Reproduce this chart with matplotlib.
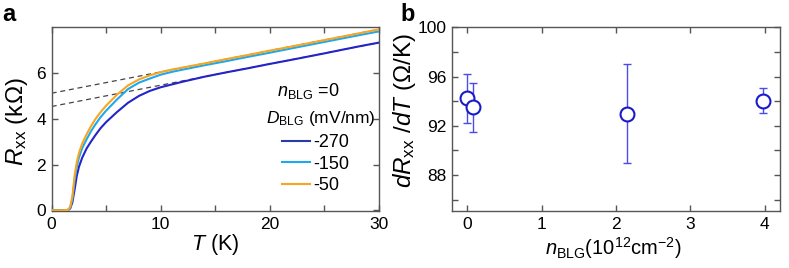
import matplotlib
matplotlib.use("Agg")
import matplotlib.pyplot as plt
from matplotlib.ticker import MultipleLocator, FixedLocator
from matplotlib.lines import Line2D

plt.rcParams['font.family'] = ['Liberation Sans', 'DejaVu Sans']
plt.rcParams['mathtext.fontset'] = 'custom'
plt.rcParams['mathtext.rm'] = 'Liberation Sans'
plt.rcParams['mathtext.it'] = 'Liberation Sans:italic'
plt.rcParams['mathtext.bf'] = 'Liberation Sans:bold'

# ---- panel a data: R_xx (kOhm) vs T (K) ----
T = [0, 1.0, 1.5, 1.7, 1.9, 2.1, 2.3, 2.5, 2.8, 3.2, 3.6, 4.0, 4.5, 5.0, 6.0, 7.0,
     8.0, 9.0, 10, 11, 12, 14, 16, 18, 20, 22, 25, 28, 30]
R_m270 = [0, 0, 0.01, 0.08, 0.35, 0.9, 1.5, 1.9, 2.3, 2.7, 3.0, 3.28, 3.6, 3.86, 4.3, 4.7,
          5.0, 5.22, 5.38, 5.5, 5.62, 5.84, 6.03, 6.21, 6.4, 6.58, 6.86, 7.15, 7.33]
R_m150 = [0, 0, 0.02, 0.12, 0.5, 1.3, 1.9, 2.3, 2.72, 3.1, 3.45, 3.75, 4.08, 4.36, 4.85, 5.3,
          5.58, 5.76, 5.93, 6.05, 6.15, 6.34, 6.52, 6.71, 6.89, 7.08, 7.36, 7.64, 7.82]
R_m50 = [0, 0, 0.02, 0.15, 0.6, 1.5, 2.1, 2.5, 2.92, 3.32, 3.67, 3.98, 4.3, 4.58, 5.06, 5.46,
         5.72, 5.9, 6.04, 6.15, 6.24, 6.42, 6.61, 6.79, 6.98, 7.16, 7.44, 7.72, 7.91]
D_labels = ['-270', '-150', '-50']
# linear fits (extrapolated to T=0)
fit_T = [0, 30]
fit_upper = [5.12, 7.91]
fit_lower = [4.54, 7.33]

# ---- panel b data ----
n_blg = [0.0, 0.08, 2.15, 3.98]
dRdT = [94.25, 93.5, 93.0, 94.05]
dRdT_err = [2.0, 2.0, 4.0, 1.0]

c_dark = '#2424c8'
c_light = '#1ea8ee'
c_orange = '#f5a623'
spine_c = '#555555'

fig = plt.figure(figsize=(7.89, 2.68), dpi=100)
axa = fig.add_axes([0.0655, 0.211, 0.4145, 0.687])
axb = fig.add_axes([0.5725, 0.211, 0.4165, 0.687])

for ax in (axa, axb):
    for s in ax.spines.values():
        s.set_color(spine_c)
        s.set_linewidth(1.0)
    ax.tick_params(which='both', direction='in', top=True, right=True,
                   length=4, width=1.0, color=spine_c, labelsize=12.5, pad=4)

ylab_kw = dict(fontsize=17.5)
xlab_kw = dict(fontsize=15.5)

# panel a
axa.plot(fit_T, fit_upper, ls=(0, (4, 3)), color='#444444', lw=0.9, zorder=1)
axa.plot(fit_T, fit_lower, ls=(0, (4, 3)), color='#444444', lw=0.9, zorder=1)
axa.plot(T, R_m270, color=c_dark, lw=1.5, zorder=2)
axa.plot(T, R_m150, color=c_light, lw=1.5, zorder=3)
axa.plot(T, R_m50, color=c_orange, lw=1.5, zorder=4)
axa.set_xlim(0, 30)
axa.set_ylim(-0.05, 8.0)
axa.xaxis.set_major_locator(MultipleLocator(10))
axa.xaxis.set_minor_locator(MultipleLocator(5))
axa.yaxis.set_major_locator(FixedLocator([0, 2, 4, 6]))
axa.yaxis.set_minor_locator(FixedLocator([]))
axa.set_xlabel(r'$T$ (K)', **xlab_kw)
axa.set_ylabel(r'$R_{\rm xx}$ (k$\Omega$)', **ylab_kw)
axa.xaxis.set_label_coords(0.499, -0.112)
axa.yaxis.set_label_coords(-0.066, 0.49)

axa.text(0.688, 0.652, r'$n_{\rm BLG}$ =0', transform=axa.transAxes, fontsize=13,
         ha='left', va='center')
axa.text(0.655, 0.505, r'$D_{\rm BLG}$ (mV/nm)', transform=axa.transAxes, fontsize=12.5,
         ha='left', va='center')
handles = [Line2D([], [], color='#2a3aa8', lw=1.5),
           Line2D([], [], color=c_light, lw=1.5),
           Line2D([], [], color=c_orange, lw=1.5)]
axa.legend(handles, D_labels, loc='upper left', bbox_to_anchor=(0.703, 0.42),
           frameon=False, fontsize=13, handlelength=1.6, handletextpad=0.15,
           labelspacing=0.25, borderaxespad=0, borderpad=0)

# panel b
axb.errorbar(n_blg, dRdT, yerr=dRdT_err, fmt='none', ecolor='#4b4be8', elinewidth=1.0,
             capsize=3, capthick=1.0, zorder=2)
axb.plot(n_blg, dRdT, 'o', ms=10, mfc='white', mec='#1a1acc', mew=1.5, zorder=3)
axb.set_xlim(-0.21, 4.21)
axb.set_ylim(85.05, 100)
axb.xaxis.set_major_locator(MultipleLocator(1))
axb.yaxis.set_major_locator(MultipleLocator(4))
axb.yaxis.set_minor_locator(MultipleLocator(2))
axb.set_xlabel(r'$n_{\rm BLG}$(10$^{12}$cm$^{-2}$)', fontsize=14.5)
axb.set_ylabel(r'$dR_{\rm xx}$ /$dT$ ($\Omega$/K)', **ylab_kw)
axb.xaxis.set_label_coords(0.49, -0.13)
axb.yaxis.set_label_coords(-0.102, 0.545)

fig.text(0.003, 0.99, 'a', fontsize=17, fontweight='bold', ha='left', va='top')
fig.text(0.508, 0.99, 'b', fontsize=17, fontweight='bold', ha='left', va='top')

fig.savefig('out.png', dpi=100)
